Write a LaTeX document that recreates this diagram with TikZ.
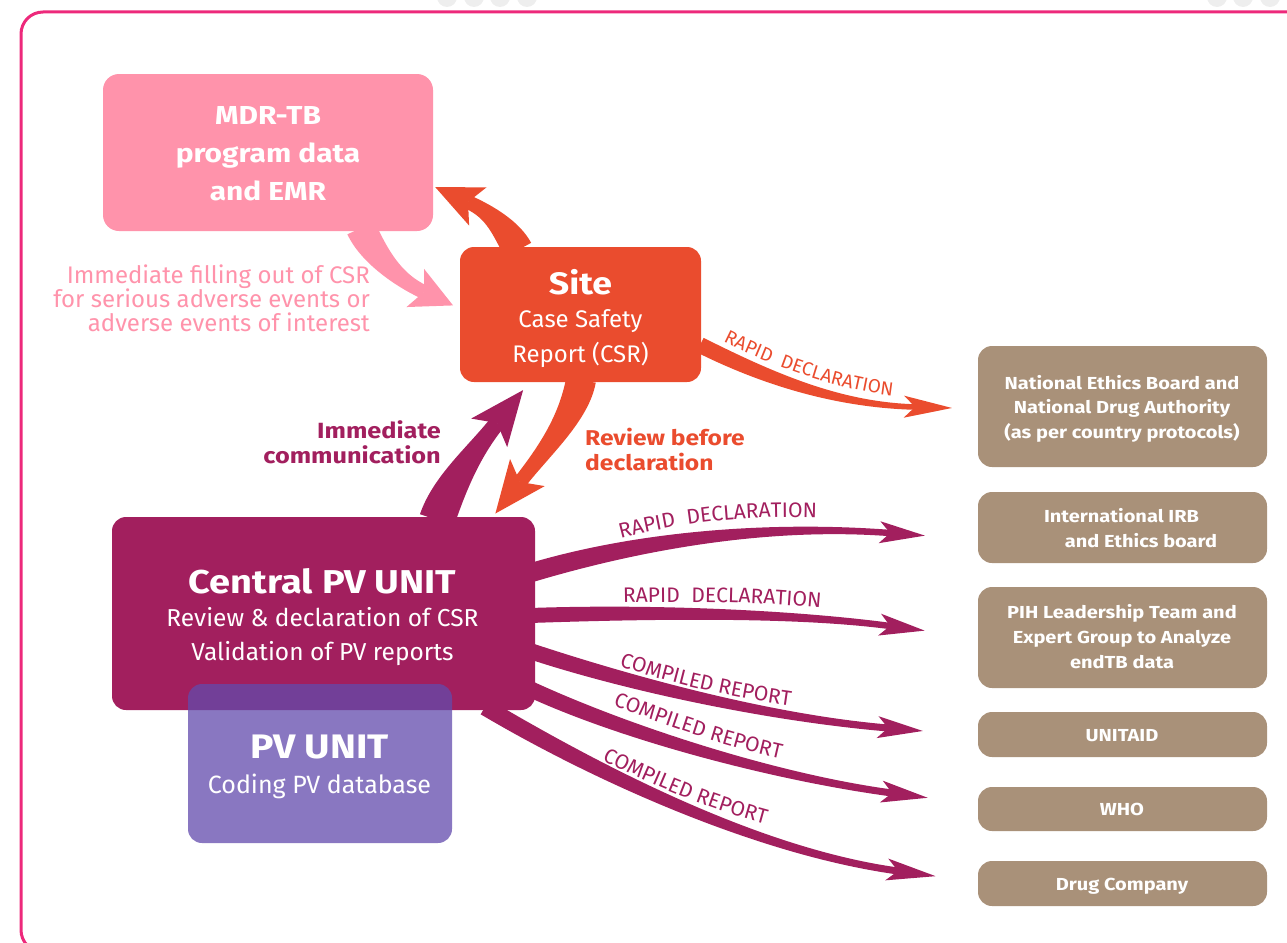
\documentclass[tikz,border=0pt]{standalone}
\usepackage{fontspec}
\setmainfont{Fira Sans}[BoldFeatures={FakeStretch=1.15}]
\usetikzlibrary{calc,decorations.text}
\definecolor{orng}{RGB}{234,76,46}
\definecolor{pnk}{RGB}{255,147,171}
\definecolor{mag}{RGB}{162,31,94}
\definecolor{pvc}{RGB}{98,74,172}
\definecolor{tanbox}{RGB}{169,145,121}
\definecolor{frm}{RGB}{237,41,123}
\definecolor{dotg}{RGB}{238,238,238}
\pgfdeclarelayer{background}
\pgfsetlayers{background,main}
\newcommand\fsz[1]{\fontsize{#1}{#1}\selectfont}
% tapered arrow: colour, start, c1, c2, end (head notch), half start width, half end width, head length, head half width
\newcommand\tarr[9]{%
  \pgfmathsetlengthmacro\hb{0.3*#8}%
  \fill[#1] ($#2!#6!90:#3$) .. controls ($#3!#6!-90:#2$) and ($#4!#7!90:#5$) .. ($#5!#7!-90:#4$)
    -- ($#5!#7!90:#4$) .. controls ($#4!#7!-90:#5$) and ($#3!#6!90:#2$) .. ($#2!#6!-90:#3$) -- cycle;
  \coordinate (hT) at ($#5!-#8!#4$);
  \coordinate (hB) at ($#5!\hb!#4$);
  \fill[#1] (hT) -- ($(hB)!#9!90:#4$) -- #5 -- ($(hB)!#9!-90:#4$) -- cycle;
}
\tikzset{
  box/.style={rounded corners=14pt, inner sep=0pt, outer sep=0pt},
  rbox/.style={box, fill=tanbox, minimum width=289pt},
  tx/.style={anchor=base, inner sep=0pt, text=white},
  lbl/.style={decorate, decoration={text along path, text align=center, text color=#1}},
}
\begin{document}
\begin{tikzpicture}[x=1pt,y=-1pt]
\useasboundingbox (0,0) rectangle (1287,942);
\begin{scope}
  \clip (0,0) rectangle (1287,942);
  \foreach \cx in {447,474,500,527,1217,1243,1270} \fill[dotg] (\cx,-3) circle (10pt);
  \draw[frm, line width=3pt, rounded corners=22pt] (21,12) rectangle (1330,952);
\end{scope}

% boxes
\node[box, fill=pnk, minimum width=330pt, minimum height=157pt, rounded corners=16pt] (mdr) at (268,152.5) {};
\node[box, fill=orng, minimum width=241pt, minimum height=135pt] (site) at (580.5,314.5) {};
\node[box, fill=mag, minimum width=423pt, minimum height=193pt] (central) at (323.5,613.5) {};
\node[box, fill=pvc, fill opacity=0.75, minimum width=264pt, minimum height=159pt] (pv) at (320,763.5) {};
\node[rbox, minimum height=121pt] (r1) at (1122.5,406.5) {};
\node[rbox, minimum height=71pt] (r2) at (1122.5,527.5) {};
\node[rbox, minimum height=101pt] (r3) at (1122.5,637.5) {};
\node[rbox, minimum height=45pt] (r4) at (1122.5,734.5) {};
\node[rbox, minimum height=44pt] (r5) at (1122.5,809) {};
\node[rbox, minimum height=45pt] (r6) at (1122.5,883.5) {};

% arrow end points
\coordinate (aS) at ($(site.north west)+(58,3)$);
\coordinate (aE) at ($(mdr.south east)+(35,-29)$);
\coordinate (bS) at ($(mdr.south east)+(-72,-3)$);
\coordinate (bE) at ($(site.north west)+(-36,45)$);
\coordinate (cS) at ($(site.south)+(0.5,-2)$);
\coordinate (cE) at ($(central.north east)+(-15,-35)$);
\coordinate (dS) at ($(central.north east)+(-98,3)$);
\coordinate (dE) at ($(site.south west)+(37,41)$);
\coordinate (eS) at ($(site.east)+(-1,30.5)$);
\coordinate (eE) at ($(r1.west)+(-63,0.5)$);
\coordinate (f1S) at ($(central.east)+(-5,-40.5)$);
\coordinate (f1E) at ($(r2.west)+(-88,5.5)$);
\coordinate (f2S) at ($(central.east)+(-5,2)$);
\coordinate (f2E) at ($(r3.west)+(-88,-11.5)$);
\coordinate (f3S) at ($(central.east)+(-5,37.5)$);
\coordinate (f3E) at ($(r4.west)+(-90,-6.5)$);
\coordinate (f4S) at ($(central.east)+(-5,75.5)$);
\coordinate (f4E) at ($(r5.west)+(-86,-16)$);
\coordinate (f5S) at ($(central.south east)+(-50,-3)$);
\coordinate (f5E) at ($(r6.west)+(-80,-12.5)$);

\begin{pgfonlayer}{background}
  \tarr{orng}{(aS)}{(506,228)}{(490,212)}{(aE)}{15pt}{7pt}{36pt}{21pt}
  \tarr{pnk}{(bS)}{(374,256)}{(398,280)}{(bE)}{15pt}{7pt}{32pt}{21pt}
  \tarr{orng}{(cS)}{(574,418)}{(545,450)}{(cE)}{15pt}{7pt}{40pt}{22pt}
  \tarr{mag}{(dS)}{(450,482)}{(474,452)}{(dE)}{18pt}{8pt}{42pt}{23pt}
  \tarr{orng}{(eS)}{(770,380)}{(840,405)}{(eE)}{8pt}{2.8pt}{37pt}{11pt}
  \tarr{mag}{(f1S)}{(640,540)}{(770,524)}{(f1E)}{9.5pt}{3.2pt}{35pt}{11pt}
  \tarr{mag}{(f2S)}{(660,611)}{(800,614)}{(f2E)}{7.5pt}{3.2pt}{35pt}{11pt}
  \tarr{mag}{(f3S)}{(630,684)}{(770,718)}{(f3E)}{8pt}{3.5pt}{35pt}{11pt}
  \tarr{mag}{(f4S)}{(630,735)}{(780,778)}{(f4E)}{8pt}{3.5pt}{36pt}{11pt}
  \tarr{mag}{(f5S)}{(600,775)}{(760,852)}{(f5E)}{8.5pt}{3.5pt}{38pt}{11pt}
\end{pgfonlayer}

% box texts
\node[tx, font=\fsz{26}\bfseries] (t1) at (268,124) {MDR-TB};
\node[tx, font=\fsz{26}\bfseries] (t2) at (268,162) {program data};
\node[tx, font=\fsz{26}\bfseries] (t3) at (268,200) {and EMR};
\node[tx, font=\fsz{31}\bfseries] (t4) at (580.5,294) {Site};
\node[tx, font=\fsz{24}] (t5) at (580.5,327) {Case Safety};
\node[tx, font=\fsz{24}] (t6) at (580.5,362) {Report (CSR)};
\node[tx, font=\fsz{33}\bfseries] (t7) at (322.5,593) {Central PV UNIT};
\node[tx, font=\fsz{24.5}] (t8) at (322.5,626) {Review \& declaration of CSR};
\node[tx, font=\fsz{24.5}] (t9) at (322.5,660) {Validation of PV reports};
\node[tx, font=\fsz{34}\bfseries] (t10) at (319.5,758) {PV UNIT};
\node[tx, font=\fsz{25}] (t11) at (319.5,793) {Coding PV database};

\tikzset{rt/.style={tx, font=\fsz{17.4}\bfseries}}
\node[rt] at (1122,389) {National Ethics Board and};
\node[rt] at (1122,413) {National Drug Authority};
\node[rt] at (1122,438) {(as per country protocols)};
\node[rt] at (1121.5,522) {International IRB};
\node[rt] at (1141,547) {and Ethics board};
\node[rt] at (1122,618) {PIH Leadership Team and};
\node[rt] at (1122,643) {Expert Group to Analyze};
\node[rt] at (1122,668) {endTB data};
\node[rt] at (1122,741) {UNITAID};
\node[rt] at (1122,815) {WHO};
\node[rt] at (1122,890) {Drug Company};

% free labels
\tikzset{pl/.style={anchor=base east, inner sep=0pt, text=pnk, font=\fsz{24}}}
\node[pl] at (370,283) {Immediate filling out of CSR};
\node[pl] at (370,307) {for serious adverse events or};
\node[pl] at (370,331) {adverse events of interest};
\node[anchor=base east, inner sep=0pt, text=mag, font=\fsz{22}\bfseries] at (441,438) {Immediate};
\node[anchor=base east, inner sep=0pt, text=mag, font=\fsz{22}\bfseries] at (441,463) {communication};
\node[anchor=base west, inner sep=0pt, text=orng, font=\fsz{21.4}\bfseries] at (585,445) {Review before};
\node[anchor=base west, inner sep=0pt, text=orng, font=\fsz{21.4}\bfseries] at (585,470) {declaration};

% labels along arrows
\path[lbl=orng, decoration={text={|\fsz{19}|RAPID{\kern5pt} DECLARATION}}] (712,336) .. controls (765,364) and (840,392) .. (905,397);
\path[lbl=mag, decoration={text={|\fsz{21}|RAPID{\kern6pt} DECLARATION}}] (608,542) .. controls (680,522) and (740,515) .. (830,518);
\path[lbl=mag, decoration={text={|\fsz{21}|RAPID{\kern6pt} DECLARATION}}] (612,603) .. controls (700,601) and (760,602) .. (832,609);
\path[lbl=mag, decoration={text={|\fsz{21}|COMPILED REPORT}}] (610,663) .. controls (680,687) and (740,699) .. (800,707);
\path[lbl=mag, decoration={text={|\fsz{21}|COMPILED REPORT}}] (602,701) .. controls (670,728) and (730,748) .. (792,761);
\path[lbl=mag, decoration={text={|\fsz{21}|COMPILED REPORT}}] (592,755) .. controls (660,790) and (720,813) .. (776,827);
\end{tikzpicture}
\end{document}
